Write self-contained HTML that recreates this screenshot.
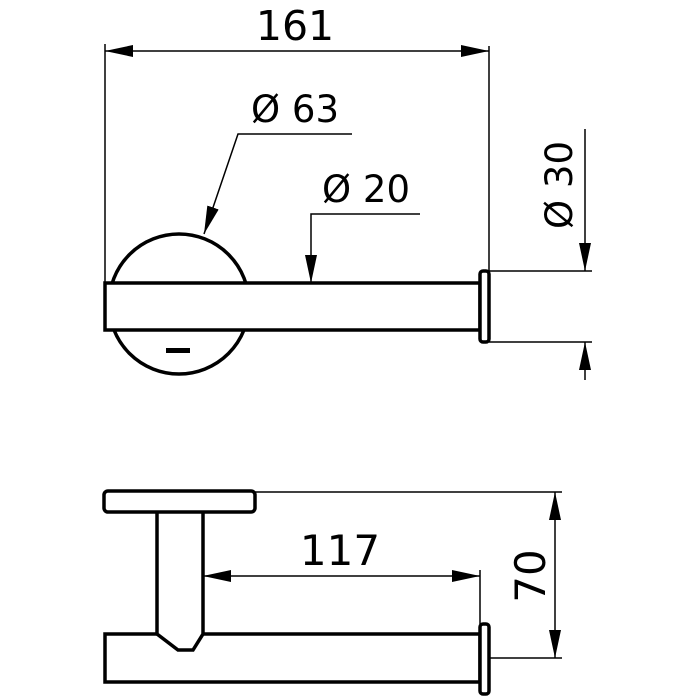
<!DOCTYPE html>
<html><head><style>body{margin:0;background:#fff}svg{display:block}text{font-family:"DejaVu Sans","Liberation Sans",sans-serif;fill:#000}</style></head>
<body>
<svg width="700" height="700" viewBox="0 0 700 700" xmlns="http://www.w3.org/2000/svg">
<defs>
<marker id="a" markerWidth="30" markerHeight="12" refX="28" refY="6" orient="auto-start-reverse" markerUnits="userSpaceOnUse"><path d="M0,0 L28,6 L0,12 z"/></marker>
</defs>
<g fill="none" stroke="#000">
<line x1="105" y1="44" x2="105" y2="283" stroke-width="1.5"/>
<line x1="489" y1="46" x2="489" y2="271" stroke-width="1.5"/>
<line x1="105" y1="51" x2="489" y2="51" stroke-width="1.5" marker-start="url(#a)" marker-end="url(#a)"/>
<circle cx="179" cy="304" r="70" stroke-width="3.5"/>
<rect x="105" y="283" width="375" height="47" fill="#fff" stroke-width="3.5"/>
<rect x="480" y="271" width="9" height="71" rx="3" fill="#fff" stroke-width="3.5"/>
<polyline points="352,134 238,134 204,234" stroke-width="1.5" marker-end="url(#a)"/>
<polyline points="420,214 311,214 311,283" stroke-width="1.5" marker-end="url(#a)"/>
<line x1="489" y1="271" x2="592" y2="271" stroke-width="1.5"/>
<line x1="489" y1="342" x2="592" y2="342" stroke-width="1.5"/>
<line x1="585" y1="129" x2="585" y2="271" stroke-width="1.5" marker-end="url(#a)"/>
<line x1="585" y1="380" x2="585" y2="342" stroke-width="1.5" marker-end="url(#a)"/>
<rect x="104" y="491" width="151" height="21" rx="4" stroke-width="3.5"/>
<line x1="255" y1="492" x2="562" y2="492" stroke-width="1.5"/>
<path d="M157,512 L157,634 L178,650 L193,650 L203,634 L203,512" stroke-width="3.5"/>
<path d="M157,634 L105,634 L105,682 L480,682 L480,634 L203,634" stroke-width="3.5"/>
<rect x="480" y="624" width="9" height="70" rx="3" fill="#fff" stroke-width="3.5"/>
<line x1="480" y1="570" x2="480" y2="624" stroke-width="1.5"/>
<line x1="203" y1="576" x2="480" y2="576" stroke-width="1.5" marker-start="url(#a)" marker-end="url(#a)"/>
<line x1="489" y1="658" x2="562" y2="658" stroke-width="1.5"/>
<line x1="555" y1="492" x2="555" y2="658" stroke-width="1.5" marker-start="url(#a)" marker-end="url(#a)"/>
</g>
<rect x="166" y="348" width="24" height="5" fill="#000"/>
<text x="295" y="40" font-size="41" text-anchor="middle">161</text>
<text x="295" y="122" font-size="37" text-anchor="middle">Ø 63</text>
<text x="366" y="202" font-size="37" text-anchor="middle">Ø 20</text>
<text transform="translate(572,185) rotate(-90)" font-size="37" text-anchor="middle">Ø 30</text>
<text x="340" y="565" font-size="42" text-anchor="middle">117</text>
<text transform="translate(545,576) rotate(-90)" font-size="42" text-anchor="middle">70</text>
</svg>
</body></html>
